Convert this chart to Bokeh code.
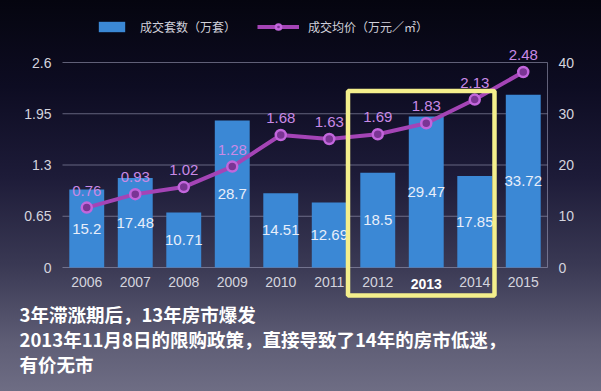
from bokeh.plotting import figure
from bokeh.models import (ColumnDataSource, LinearAxis, Range1d, FixedTicker, Legend,
                          LegendItem, LabelSet, Label, BoxAnnotation)
from bokeh.embed import file_html
from bokeh.resources import INLINE
from bokeh.core.properties import value

years = ["2006", "2007", "2008", "2009", "2010", "2011", "2012", "2013", "2014", "2015"]
volume = [15.2, 17.48, 10.71, 28.7, 14.51, 12.69, 18.5, 29.47, 17.85, 33.72]
price = [0.76, 0.93, 1.02, 1.28, 1.68, 1.63, 1.69, 1.83, 2.13, 2.48]
left_ticks = [0, 0.65, 1.3, 1.95, 2.6]
left_tick_labels = ["0", "0.65", "1.3", "1.95", "2.6"]
right_ticks = [0, 10, 20, 30, 40]
series_names = ["成交套数（万套）", "成交均价（万元／㎡）"]
highlight_year = "2013"
notes = ["3年滞涨期后，13年房市爆发",
         "2013年11月8日的限购政策，直接导致了14年的房市低迷，",
         "有价无市"]

FONT = "Liberation Sans"
CJK = "Noto Sans CJK SC"
TICK_COLOR = "#d4d4de"

# page layout (pixels); the plot frame fills the whole canvas
W, H = 601, 391
PL, PR, PT, PB = 62, 547, 62, 267   # plot area edges
n = len(years)
cat_w = (PR - PL) / n
x0_px = PL + cat_w / 2
x_start = -x0_px / cat_w
x_end = (W - x0_px) / cat_w
kL = (PB - PT) / left_ticks[-1]
kR = (PB - PT) / right_ticks[-1]

xs = list(range(n))
src = ColumnDataSource(dict(
    x=xs, vol=volume, vol_mid=[v / 2 for v in volume], price=price,
    vol_txt=[str(v) for v in volume], price_txt=["%.2f" % v for v in price],
))

p = figure(width=W, height=H, output_backend="svg", toolbar_location=None,
           x_range=Range1d(x_start, x_end),
           y_range=Range1d(-(H - PB) / kL, left_ticks[-1] + PT / kL),
           min_border=0)
p.background_fill_color = None
p.border_fill_color = None
p.outline_line_color = None
p.extra_y_ranges = {"vol": Range1d(-(H - PB) / kR, right_ticks[-1] + PT / kR)}

# left axis (labels drawn inside the canvas)
ya = p.yaxis[0]
ya.ticker = FixedTicker(ticks=left_ticks)
ya.major_label_overrides = {t: l for t, l in zip(left_ticks, left_tick_labels)}
ya.axis_line_color = None
ya.major_tick_line_color = None
ya.minor_tick_line_color = None
ya.major_tick_out = 0
ya.major_tick_in = 0
ya.major_label_standoff = -51
ya.major_label_text_color = TICK_COLOR
ya.major_label_text_font = FONT
ya.major_label_text_font_size = "14px"

# right axis
ra = LinearAxis(y_range_name="vol", ticker=FixedTicker(ticks=right_ticks))
ra.axis_line_color = None
ra.major_tick_line_color = None
ra.minor_tick_line_color = None
ra.major_tick_out = 0
ra.major_tick_in = 0
ra.major_label_standoff = -(W - 558)
ra.major_label_text_color = TICK_COLOR
ra.major_label_text_font = FONT
ra.major_label_text_font_size = "14px"
p.add_layout(ra, "right")

# x axis (years)
xa = p.xaxis[0]
xa.ticker = FixedTicker(ticks=xs)
xa.major_label_overrides = {i: ("" if y == highlight_year else y) for i, y in zip(xs, years)}
xa.axis_line_color = None
xa.major_tick_line_color = None
xa.minor_tick_line_color = None
xa.major_tick_out = 0
xa.major_tick_in = 0
xa.major_label_standoff = -(H - 276)
xa.major_label_text_color = TICK_COLOR
xa.major_label_text_font = FONT
xa.major_label_text_font_size = "14px"

p.xgrid.grid_line_color = None
p.ygrid.grid_line_color = None

# grid lines limited to the plot area, plus right frame line
p.segment(x0=[-0.5] * len(left_ticks), x1=[n - 0.5] * len(left_ticks),
          y0=left_ticks, y1=left_ticks, line_color="#9a9ab4", line_alpha=0.6, line_width=1)
p.segment(x0=[n - 0.5], x1=[n - 0.5], y0=[left_ticks[0]], y1=[left_ticks[-1]],
          line_color="#9a9ab4", line_alpha=0.6, line_width=1)

bars = p.vbar(x="x", top="vol", width=0.72, source=src, y_range_name="vol",
              fill_color="#3b88d5", line_color=None)
p.add_layout(LabelSet(x="x", y="vol_mid", text="vol_txt", source=src, y_range_name="vol",
                      text_align="center", text_baseline="middle", text_color="#e8eefa",
                      text_font=value(FONT), text_font_size="15px"))

ln = p.line(x="x", y="price", source=src, line_color="#a444b6", line_width=4)
pts = p.scatter(x="x", y="price", source=src, size=10, fill_color="#7a3594",
                line_color="#c266dc", line_width=2.5)
p.add_layout(LabelSet(x="x", y="price", text="price_txt", source=src, y_offset=17,
                      text_align="center", text_baseline="middle", text_color="#c98ae6",
                      text_font=value(FONT), text_font_size="15px"))

# legends
common = dict(glyph_height=13, padding=0, margin=0, border_line_color=None,
              background_fill_alpha=0, label_text_color="#d0d0da",
              label_text_font=CJK, label_text_font_size="12px", label_height=13)
lg1 = Legend(items=[LegendItem(label=series_names[0], renderers=[bars])],
             location=(95, H - 35), glyph_width=33, label_standoff=12, **common)
lg2 = Legend(items=[LegendItem(label=series_names[1], renderers=[ln, pts])],
             location=(257, H - 35), glyph_width=42, label_standoff=9, **common)
p.add_layout(lg1, "center")
p.add_layout(lg2, "center")

# bold highlighted year
p.add_layout(Label(x=PL + cat_w * (years.index(highlight_year) + 0.5), y=H - 283.5,
                   x_units="screen", y_units="screen", text=highlight_year,
                   text_align="center", text_baseline="middle", text_color="#ffffff",
                   text_font=FONT, text_font_style="bold", text_font_size="14px"))

# highlight box
p.add_layout(BoxAnnotation(left=347.5, right=494, top=H - 90.5, bottom=H - 295,
                           left_units="screen", right_units="screen",
                           top_units="screen", bottom_units="screen",
                           fill_alpha=0, line_color="#f4ef8c", line_alpha=1, line_width=4.5))

# notes
for i, t in enumerate(notes):
    p.add_layout(Label(x=19, y=H - 313 - 25 * i, x_units="screen", y_units="screen", text=t,
                       text_align="left", text_baseline="middle", text_color="#ffffff",
                       text_font=CJK, text_font_style="bold", text_font_size="18.5px"))

html = file_html(p, INLINE)
style = ("<style>html{height:100%;background:linear-gradient(to bottom,#05050f 0%,#0d0c22 22%,"
         "#1d1b38 45%,#3a3954 68%,#5f5e76 88%,#6e6d84 100%) no-repeat;}</style>")
html = html.replace("<head>", "<head>" + style, 1)
open("out.html", "w").write(html)
